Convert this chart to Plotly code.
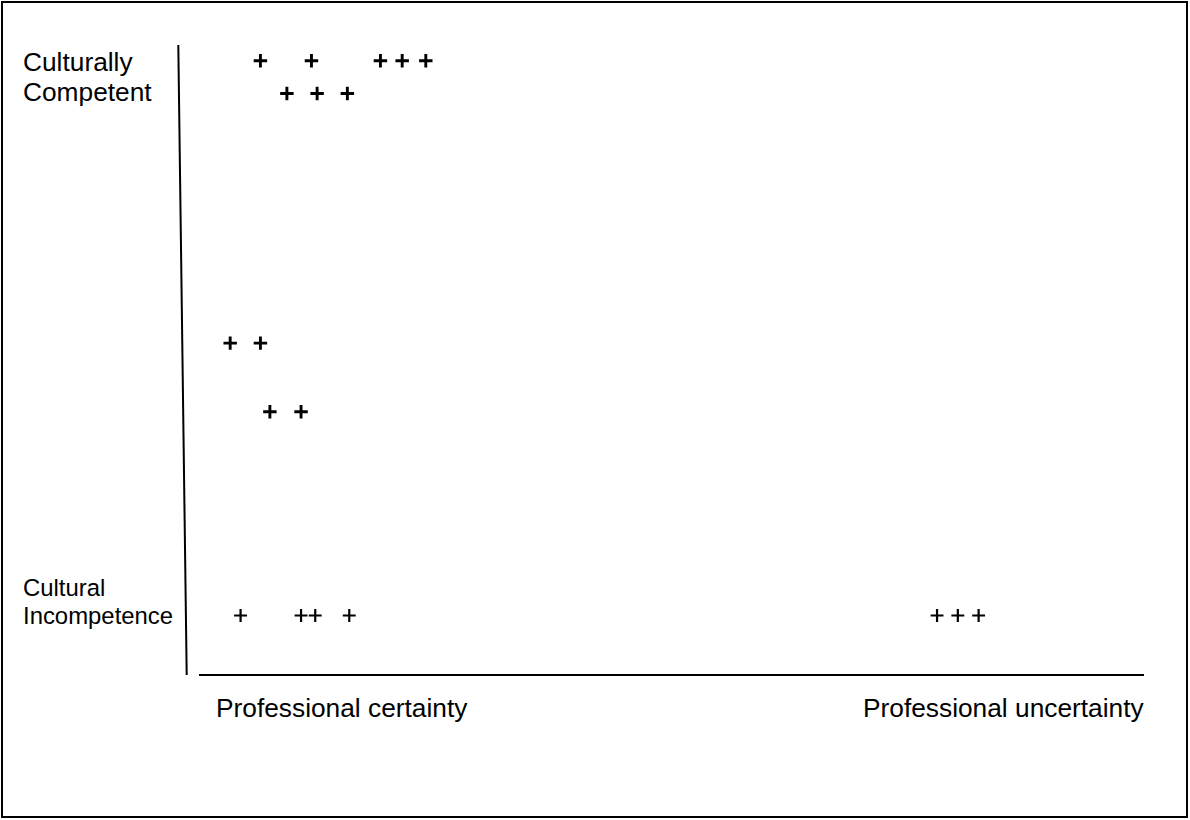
import plotly.graph_objects as go

# Positions on an abstract 0-100 scale
# x: 0 = professional certainty, 100 = professional uncertainty
# y: 0 = cultural incompetence, 100 = culturally competent
bold_x = [6.5, 11.9, 19.2, 21.5, 24.0, 9.3, 12.5, 15.7, 3.3, 6.5, 7.5, 10.8]
bold_y = [97.5, 97.5, 97.5, 97.5, 97.5, 92.3, 92.3, 92.3, 52.6, 52.6, 41.7, 41.7]
thin_x = [4.4, 10.8, 12.3, 15.9, 78.1, 80.3, 82.5]
thin_y = [9.3, 9.3, 9.3, 9.3, 9.3, 9.3, 9.3]

y_labels_top = ["Culturally", "Competent"]
y_labels_bottom = ["Cultural", "Incompetence"]
x_labels = ["Professional certainty", "Professional uncertainty"]

FONT = "Liberation Sans, Arial, sans-serif"

fig = go.Figure()
fig.add_trace(go.Scatter(
    x=bold_x, y=bold_y, mode="markers",
    marker=dict(symbol="cross-thin", size=9.6, color="black",
                line=dict(color="black", width=2.9)),
    hoverinfo="skip", showlegend=False, cliponaxis=False))
fig.add_trace(go.Scatter(
    x=thin_x, y=thin_y, mode="markers",
    marker=dict(symbol="cross-thin", size=9.2, color="black",
                line=dict(color="black", width=2.2)),
    hoverinfo="skip", showlegend=False, cliponaxis=False))

L, R, T, B = 199, 46, 45, 146
W, H = 1190, 820
pw, ph = W - L - R, H - T - B


def px(xp):
    return (xp - L) / pw


def py(yp):
    return (H - B - yp) / ph


annotations = []
for txt, yy in zip(y_labels_top, [62, 92]):
    annotations.append(dict(x=px(21), y=py(yy), xref="paper", yref="paper",
                            text=txt, showarrow=False, xanchor="left", yanchor="middle",
                            font=dict(family=FONT, size=26.3, color="black")))
for txt, yy in zip(y_labels_bottom, [587, 615]):
    annotations.append(dict(x=px(21), y=py(yy), xref="paper", yref="paper",
                            text=txt, showarrow=False, xanchor="left", yanchor="middle",
                            font=dict(family=FONT, size=23.9, color="black")))
annotations.append(dict(x=px(214), y=py(708), xref="paper", yref="paper",
                        text=x_labels[0], showarrow=False, xanchor="left", yanchor="middle",
                        font=dict(family=FONT, size=26.3, color="black")))
annotations.append(dict(x=px(1147), y=py(708), xref="paper", yref="paper",
                        text=x_labels[1], showarrow=False, xanchor="right", yanchor="middle",
                        font=dict(family=FONT, size=26.3, color="black")))

shapes = [
    # slanted vertical axis line
    dict(type="line", xref="paper", yref="paper",
         x0=px(178.3), y0=py(45), x1=px(186.7), y1=py(675),
         line=dict(color="black", width=2)),
    # outer frame
    dict(type="rect", xref="paper", yref="paper",
         x0=px(2), y0=py(817), x1=px(1187), y1=py(2),
         line=dict(color="black", width=2), fillcolor="rgba(0,0,0,0)"),
]

fig.update_layout(
    width=W, height=H, autosize=False,
    margin=dict(l=L, r=R, t=T, b=B, pad=0),
    paper_bgcolor="white", plot_bgcolor="white",
    xaxis=dict(range=[0, 100], showgrid=False, zeroline=False, showticklabels=False,
               ticks="", showline=True, linecolor="black", linewidth=2, fixedrange=True),
    yaxis=dict(range=[0, 100], showgrid=False, zeroline=False, showticklabels=False,
               ticks="", showline=False, fixedrange=True),
    annotations=annotations, shapes=shapes,
)

fig.write_html("out.html", config={"displayModeBar": False},
               post_script="document.body.style.margin='0';document.body.style.overflow='hidden';")
